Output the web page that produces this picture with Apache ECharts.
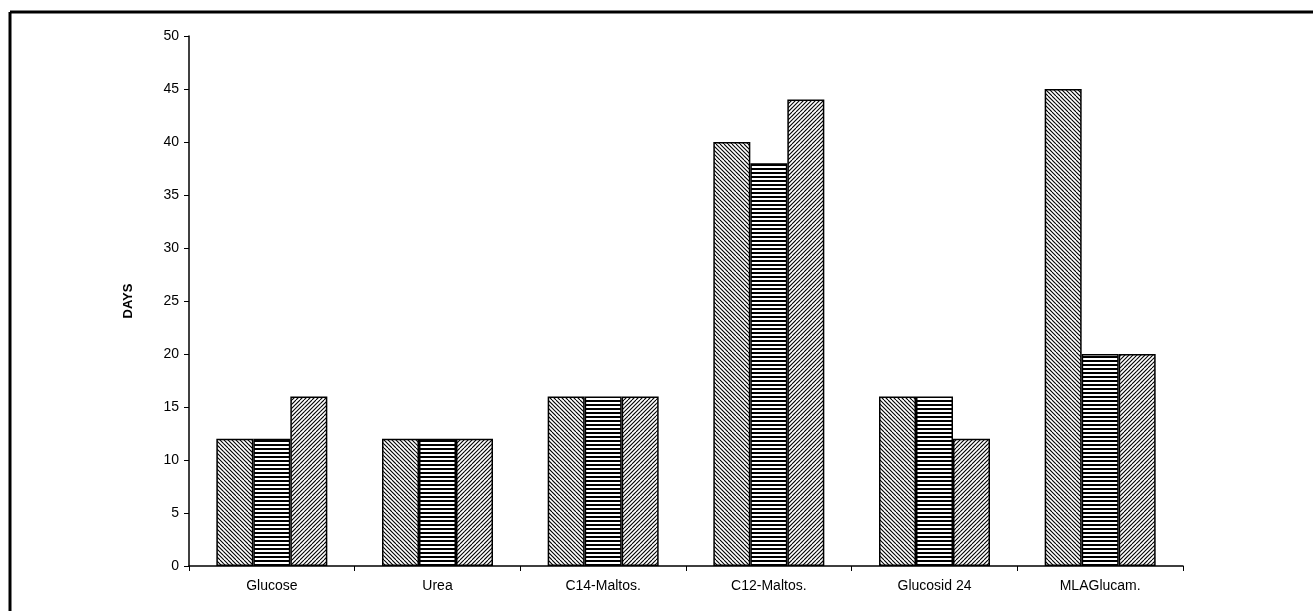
<!DOCTYPE html>
<html>
<head>
<meta charset="utf-8">
<script src="https://cdn.jsdelivr.net/npm/echarts@6/dist/echarts.min.js"></script>
<style>
html, body { margin: 0; padding: 0; background: #fff; }
#main { width: 1313px; height: 611px; }
</style>
</head>
<body>
<div id="main"></div>
<script>
var categories = ["Glucose", "Urea", "C14-Maltos.", "C12-Maltos.", "Glucosid 24", "MLAGlucam."];
var series1 = [12, 12, 16, 40, 16, 45];
var series2 = [12, 12, 16, 38, 16, 20];
var series3 = [16, 12, 16, 44, 12, 20];
var yTicks = { min: 0, max: 50, step: 5 };

// hatch fills, drawn on small canvases and repeated
function makePattern(kind) {
	var size = 16;
	var cv = document.createElement("canvas");
	cv.width = size;
	cv.height = size;
	var ctx = cv.getContext("2d");
	ctx.fillStyle = "#fff";
	ctx.fillRect(0, 0, size, size);
	ctx.strokeStyle = "#000";
	if (kind == "horiz") {
		ctx.fillStyle = "#000";
		for (var y = 0; y < size; y += 4) {
			ctx.fillRect(0, y, size, 2);
		}
		return cv;
	}
	ctx.lineWidth = 1.1;
	for (var k = -size; k <= size * 2; k += 4) {
		ctx.beginPath();
		if (kind == "back") {
			ctx.moveTo(k, 0);
			ctx.lineTo(k + size, size);
		} else {
			ctx.moveTo(k, size);
			ctx.lineTo(k + size, 0);
		}
		ctx.stroke();
	}
	return cv;
}

var patBack = makePattern("back");
var patHoriz = makePattern("horiz");
var patFwd = makePattern("fwd");

function barSeries(name, data, pat) {
	return {
		name: name,
		type: "bar",
		data: data,
		barGap: "0%",
		barCategoryGap: "33%",
		itemStyle: {
			color: { image: pat, repeat: "repeat" },
			borderColor: "#000",
			borderWidth: 1.5
		},
		emphasis: { disabled: true },
		animation: false
	};
}

var myChart = echarts.init(document.getElementById("main"));
var option = {
	backgroundColor: "#fff",
	animation: false,
	textStyle: { fontFamily: "Liberation Sans, Arial, sans-serif" },
	grid: {
		left: 189,
		right: 130,
		top: 36,
		bottom: 45
	},
	graphic: [
		{ type: "line", shape: { x1: 10, y1: 12, x2: 1313, y2: 12 }, style: { stroke: "#000", lineWidth: 3 } },
		{ type: "line", shape: { x1: 10, y1: 12, x2: 10, y2: 611 }, style: { stroke: "#000", lineWidth: 3 } }
	],
	xAxis: {
		type: "category",
		data: categories,
		boundaryGap: true,
		axisLine: { lineStyle: { color: "#000", width: 1.5 } },
		axisTick: { show: true, length: 5, lineStyle: { color: "#000" } },
		axisLabel: { color: "#000", fontSize: 14, margin: 13 }
	},
	yAxis: {
		type: "value",
		min: yTicks.min,
		max: yTicks.max,
		interval: yTicks.step,
		name: "DAYS",
		nameLocation: "middle",
		nameGap: 54,
		nameRotate: 90,
		nameTextStyle: { color: "#000", fontWeight: "bold", fontSize: 13 },
		axisLine: { show: true, lineStyle: { color: "#000", width: 1.5 } },
		axisTick: { show: true, length: 5, lineStyle: { color: "#000" } },
		axisLabel: { color: "#000", fontSize: 14, margin: 10 },
		splitLine: { show: false }
	},
	series: [
		barSeries("s1", series1, patBack),
		barSeries("s2", series2, patHoriz),
		barSeries("s3", series3, patFwd)
	]
};
myChart.setOption(option);
</script>
</body>
</html>
